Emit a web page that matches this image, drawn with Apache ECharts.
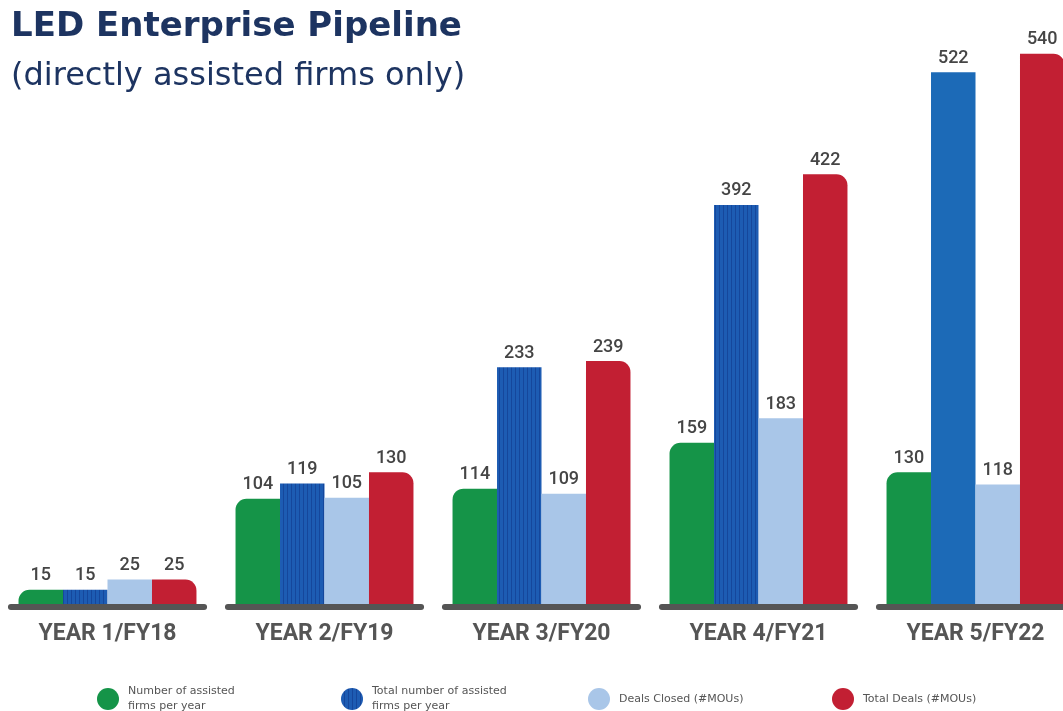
<!DOCTYPE html>
<html><head><meta charset="utf-8">
<script src="https://cdn.jsdelivr.net/npm/echarts@6/dist/echarts.min.js"></script>
<style>html,body{margin:0;padding:0;background:#fff}#c{width:1063px;height:711px}</style>
</head><body><div id="c"></div>
<script>
const categories = ['YEAR 1/FY18','YEAR 2/FY19','YEAR 3/FY20','YEAR 4/FY21','YEAR 5/FY22'];
const assistedPerYear = [15,104,114,159,130];
const totalAssisted = [15,119,233,392,522];
const dealsClosed = [25,105,109,183,118];
const totalDeals = [25,130,239,422,540];
const seriesNames = ['Number of assisted\nfirms per year','Total number of assisted\nfirms per year','Deals Closed (#MOUs)','Total Deals (#MOUs)'];

const FONT = 'Roboto';
const WIDE = 'DejaVu Sans';
// striped blue pattern
const pc = document.createElement('canvas');
pc.width = 4; pc.height = 4;
const px = pc.getContext('2d');
px.fillStyle = '#1d5cb3'; px.fillRect(0,0,4,4);
px.fillStyle = '#15479c'; px.fillRect(3,0,1,4);
const stripeBlue = {image: pc, repeat: 'repeat'};

const labelStyle = {show:true, position:'top', distance:5, color:'#454545', fontSize:18, fontWeight:500, fontFamily:FONT};

const chart = echarts.init(document.getElementById('c'));
chart.setOption({
  animation:false,
  backgroundColor:'#fff',
  title:[
    {text:'LED Enterprise Pipeline', left:11, top:10, padding:0, textStyle:{color:'#1d3461', fontSize:34, fontWeight:'bold', fontFamily:WIDE}},
    {text:'(directly assisted firms only)', left:11, top:61, padding:0, textStyle:{color:'#1d3461', fontSize:32, fontWeight:'normal', fontFamily:WIDE}}
  ],
  legend:[0,1,2,3].map((k)=>({
    data:[seriesNames[k]],
    left:[97,341,588,832][k],
    top: k<2 ? 684 : 688,
    padding:0,
    icon:'circle', itemWidth:22, itemHeight:22,
    textStyle:{color:'#555', fontSize:11, fontFamily:WIDE, lineHeight:15, padding:[0,0,0,4]},
    selectedMode:false
  })),
  grid:{left:-1, right:-21, top:13, bottom:106, containLabel:false, outerBoundsMode:'none'},
  xAxis:{type:'category', data:categories, axisLine:{show:false}, axisTick:{show:false},
    axisLabel:{margin:18, color:'#555', fontSize:23, fontWeight:'bold', fontFamily:FONT}},
  yAxis:{type:'value', min:0, max:580, show:false, splitLine:{show:false}},
  series:[
    {name:seriesNames[0], type:'bar', data:assistedPerYear, barGap:'0%', barCategoryGap:'18%',
      itemStyle:{color:'#159448', borderRadius:[11,0,0,0]}, label:labelStyle},
    {name:seriesNames[1], type:'bar', data:totalAssisted.map((v,i)=> i===4 ? {value:v, itemStyle:{color:'#1c6ab7'}} : v),
      itemStyle:{color:stripeBlue}, label:labelStyle},
    {name:seriesNames[2], type:'bar', data:dealsClosed,
      itemStyle:{color:'#a9c6e8'}, label:labelStyle},
    {name:seriesNames[3], type:'bar', data:totalDeals,
      itemStyle:{color:'#c21f33', borderRadius:[0,11,0,0]}, label:labelStyle},
    {type:'custom', silent:true, z:5, data:categories.map(c=>[c,0]),
      renderItem:(params, api)=>{
        const p = api.coord([api.value(0), 0]);
        const w = api.size([1,0])[0];
        return {type:'line', shape:{x1:p[0]-w*0.445, y1:p[1]+2, x2:p[0]+w*0.445, y2:p[1]+2},
          style:{stroke:'#555', lineWidth:6, lineCap:'round'}};
      }}
  ]
});
</script></body></html>
